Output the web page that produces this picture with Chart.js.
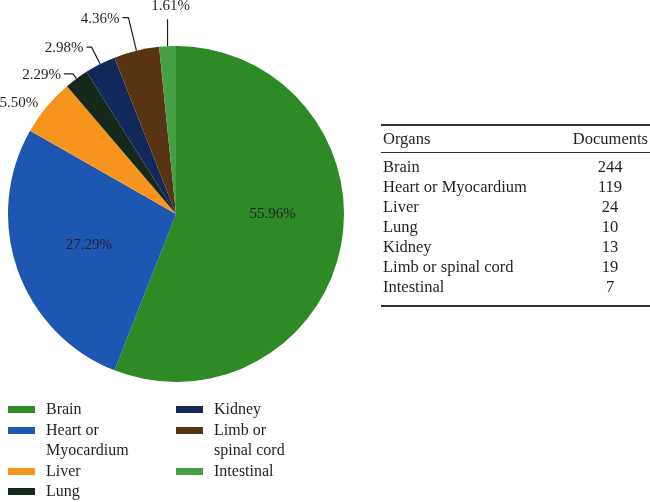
<!DOCTYPE html>
<html>
<head>
<meta charset="utf-8">
<script src="https://cdn.jsdelivr.net/npm/chart.js@4"></script>
<style>
  html, body { margin: 0; padding: 0; background: #fff; }
  #wrap { position: relative; width: 650px; height: 502px; font-family: 'Liberation Serif', 'DejaVu Serif', serif; color: #231f20; }
  #wrap canvas { position: absolute; left: 0; top: 0; }
  #table { position: absolute; left: 381px; top: 124px; width: 269px; border-collapse: collapse; font-size: 16.5px; }
  #table th, #table td { padding: 0; height: 20px; line-height: 20px; font-weight: normal; }
  #table thead tr { border-top: 2px solid #333; border-bottom: 1.5px solid #333; }
  #table thead th { height: 26px; }
  #table tbody tr:first-child td { padding-top: 4px; }
  #table tbody tr:last-child td { padding-bottom: 8px; }
  #table tbody tr:last-child { border-bottom: 2px solid #333; }
  #table .l { text-align: left; padding-left: 2px; }
  #table .r { text-align: center; width: 76px; padding-right: 2px; }
  #table thead .r { text-align: right; }
  .leg { position: absolute; font-size: 16px; line-height: 20.6px; }
  .leg .it { position: relative; padding-left: 38px; }
  .leg .sw { position: absolute; left: 0; top: 7px; width: 27px; height: 7px; }
</style>
</head>
<body>
<div id="wrap">
  <canvas id="chart-organs" width="650" height="502"></canvas>
  <table id="table">
    <thead><tr><th class="l">Organs</th><th class="r">Documents</th></tr></thead>
    <tbody id="table-body"></tbody>
  </table>
  <div class="leg" id="leg-1" style="left:8px; top:399px;"></div>
  <div class="leg" id="leg-2" style="left:176px; top:399px;"></div>
</div>
<script>
// 장기별 문헌 수
const organs = ['Brain', 'Heart or Myocardium', 'Liver', 'Lung', 'Kidney', 'Limb or spinal cord', 'Intestinal'];
const legendNames = [['Brain'], ['Heart or', 'Myocardium'], ['Liver'], ['Lung'], ['Kidney'], ['Limb or', 'spinal cord'], ['Intestinal']];
const documents = [244, 119, 24, 10, 13, 19, 7];
const percentLabels = ['55.96%', '27.29%', '5.50%', '2.29%', '2.98%', '4.36%', '1.61%'];
const colors = ['#2e8a24', '#1e57b2', '#f7941d', '#15291a', '#11295a', '#5a3412', '#45a044'];

// label placement per slice (style only)
const labelStyle = [
    { mode: 'in', rf: 0.58, dx: 1, dy: -18 },
    { mode: 'in', rf: 0.55, dx: 0, dy: 0 },
    { mode: 'out', ext: 7, tick: 0, line: false },
    { mode: 'out', ext: 6, tick: 9, line: true },
    { mode: 'out', ext: 19, tick: 5, line: true },
    { mode: 'out', ext: 34, tick: 6, line: true },
    { mode: 'top', ext: 27, line: true }
];

// 표
const tbody = document.getElementById('table-body');
organs.forEach((name, i) => {
    const tr = document.createElement('tr');
    tr.innerHTML = `<td class="l">${name}</td><td class="r">${documents[i]}</td>`;
    tbody.appendChild(tr);
});

// 범례
const renderLegend = (el, from, to) => {
    for (let i = from; i < to; i++) {
        const div = document.createElement('div');
        div.className = 'it';
        div.innerHTML = `<span class="sw" style="background:${colors[i]}"></span>` + legendNames[i].join('<br>');
        el.appendChild(div);
    }
};
renderLegend(document.getElementById('leg-1'), 0, 4);
renderLegend(document.getElementById('leg-2'), 4, 7);

const pieLabels = {
    id: 'pieLabels',
    afterDatasetsDraw(chart) {
        const ctx = chart.ctx;
        const arcs = chart.getDatasetMeta(0).data;
        ctx.save();
        ctx.font = "15px 'Liberation Serif'";
        ctx.fillStyle = '#231f20';
        ctx.strokeStyle = '#231f20';
        ctx.lineWidth = 1.2;
        arcs.forEach((arc, i) => {
            const st = labelStyle[i];
            const mid = (arc.startAngle + arc.endAngle) / 2;
            const cos = Math.cos(mid), sin = Math.sin(mid);
            const r = arc.outerRadius;
            if (st.mode === 'in') {
                ctx.textAlign = 'center';
                ctx.textBaseline = 'middle';
                ctx.fillText(percentLabels[i], arc.x + cos * r * st.rf + st.dx, arc.y + sin * r * st.rf + st.dy);
                return;
            }
            const ex = arc.x + cos * r, ey = arc.y + sin * r;
            const bx = arc.x + cos * (r + st.ext), by = arc.y + sin * (r + st.ext);
            if (st.mode === 'top') {
                ctx.beginPath();
                ctx.moveTo(ex, ey);
                ctx.lineTo(ex, ey - st.ext);
                ctx.stroke();
                ctx.textAlign = 'center';
                ctx.textBaseline = 'bottom';
                ctx.fillText(percentLabels[i], ex + 3, ey - st.ext - 6);
                return;
            }
            const tx = bx - st.tick;
            if (st.line) {
                ctx.beginPath();
                ctx.moveTo(ex, ey);
                ctx.lineTo(bx, by);
                ctx.lineTo(tx, by);
                ctx.stroke();
            }
            ctx.textAlign = 'right';
            ctx.textBaseline = 'middle';
            ctx.fillText(percentLabels[i], tx - 3, by + 1);
        });
        ctx.restore();
    }
};

new Chart(document.getElementById('chart-organs'), {
    type: 'pie',
    data: {
        labels: organs,
        datasets: [{
            data: documents,
            backgroundColor: colors,
            borderWidth: 0
        }]
    },
    options: {
        responsive: false,
        animation: false,
        layout: { padding: { left: 8, top: 46, right: 306, bottom: 120 } },
        plugins: {
            legend: { display: false },
            tooltip: { enabled: false }
        }
    },
    plugins: [pieLabels]
});
</script>
</body>
</html>
